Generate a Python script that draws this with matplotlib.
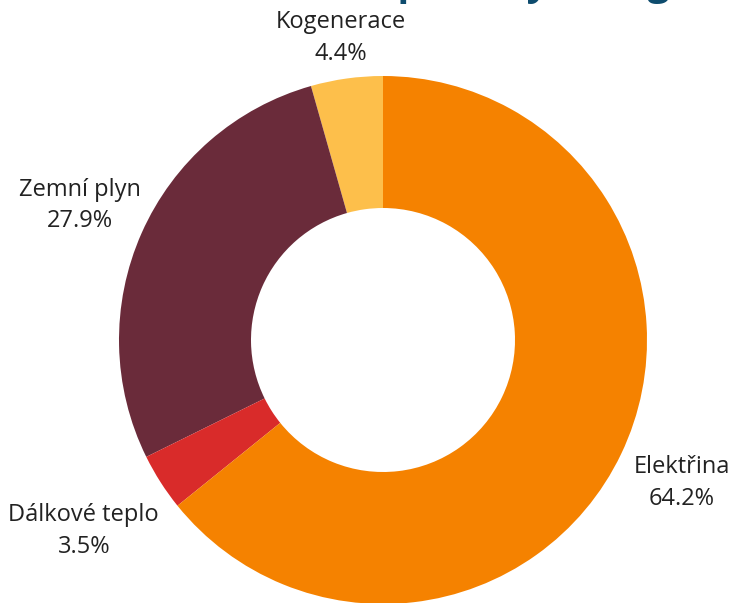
import numpy as np
import matplotlib
matplotlib.use("Agg")
import matplotlib.pyplot as plt

# data (order goes counter-clockwise from 12 o'clock)
labels = ["Kogenerace", "Zemní plyn", "Dálkové teplo", "Elektřina"]
shares = [4.4, 27.9, 3.5, 64.2]
colors = ["#FDBF4B", "#6A2B3A", "#D92B2A", "#F58200"]
label_dist = [1.155, 1.254, 1.345, 1.255]  # label centre distance from pie centre

plt.rcParams["font.family"] = ["Open Sans", "DejaVu Sans"]

W, H = 731, 603
cx, cy, R = 383, 340, 264  # pie centre / radius in pixels

fig = plt.figure(figsize=(W / 100, H / 100), dpi=100)
ax = fig.add_axes([0, 0, 1, 1])

wedges, _ = ax.pie(shares, colors=colors, startangle=90, counterclock=True,
                   wedgeprops=dict(width=0.5, linewidth=0))

# labels outside the ring
for w, lab, val, d in zip(wedges, labels, shares, label_dist):
    ang = np.deg2rad((w.theta1 + w.theta2) / 2)
    ax.text(d * np.cos(ang), d * np.sin(ang), f"{lab}\n{val}%",
            ha="center", va="center", multialignment="center",
            fontsize=17, color="#222222", linespacing=1.42)

ax.set_xlim(-cx / R, (W - cx) / R)
ax.set_ylim(-(H - cy) / R, cy / R)
ax.set_aspect("auto")
ax.axis("off")

# title is cropped at the top in the original picture: only descenders show
renderer = fig.canvas.get_renderer()

def text_w(s, size):
    t = fig.text(0, 0, s, fontsize=size, fontweight="bold")
    w = t.get_window_extent(renderer).width
    t.remove()
    return w

size = 28
x0 = 397 - text_w("Struktura s", size)
fig.text(x0 / W, (H - 4) / H, "Struktura spotřeby energie", ha="left", va="bottom",
         fontsize=size, fontweight="bold", color="#0E4C6E")

fig.savefig("out.png", dpi=100)
